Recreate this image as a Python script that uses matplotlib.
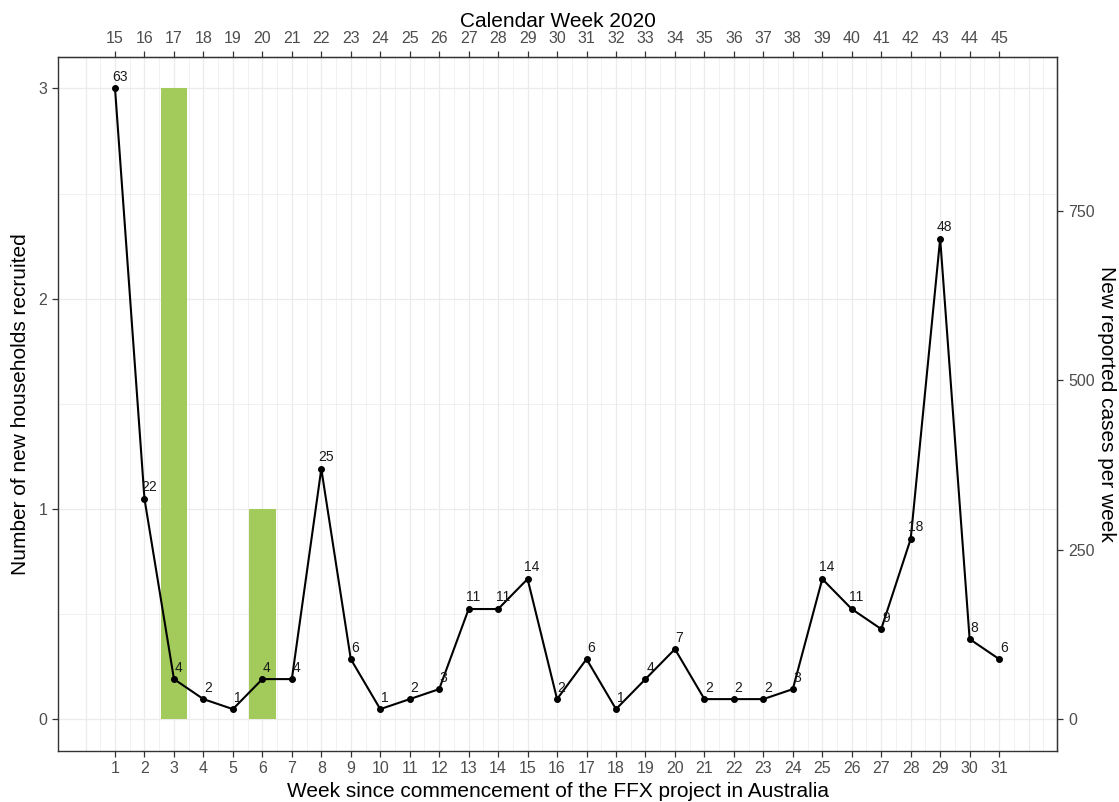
import matplotlib
matplotlib.use("Agg")
import matplotlib.pyplot as plt
import numpy as np

plt.rcParams['font.family'] = ['Liberation Sans', 'DejaVu Sans']

# data
weeks = list(range(1, 32))
cal_weeks = [w + 14 for w in weeks]
case_labels = [63, 22, 4, 2, 1, 4, 4, 25, 6, 1, 2, 3, 11, 11, 14, 2,
               6, 1, 4, 7, 2, 2, 2, 3, 14, 11, 9, 18, 48, 8, 6]
bar_weeks = [3, 6]
households = [3, 1]

scale_div = 21      # label -> left axis units
sec_factor = 310    # left axis -> reported cases

fig = plt.figure(figsize=(11.19, 8.02), dpi=100)
ax = fig.add_axes([0.0517, 0.064, 0.8933, 0.865])

grid_col = '#ebebeb'
for x in np.arange(0, 33, 0.5):
    ax.axvline(x, color=grid_col, lw=0.9 if x % 1 == 0 else 0.5, zorder=0)
for y in np.arange(0, 3.01, 0.5):
    ax.axhline(y, color=grid_col, lw=0.9 if y % 1 == 0 else 0.5, zorder=0)

ax.bar(bar_weeks, households, width=0.9, color='#a3cb5b', zorder=2)

line_y = [v / scale_div for v in case_labels]
ax.plot(weeks, line_y, color='black', lw=1.5, marker='o', ms=4, zorder=3)
for w, y, v in zip(weeks, line_y, case_labels):
    ax.annotate(str(v), (w, y), xytext=(3.3, 8.3), textcoords='offset points',
                ha='center', va='center', fontsize=10, color='#1a1a1a', zorder=4)

ax.set_xlim(-0.94, 32.98)
ax.set_ylim(-0.15, 3.15)
ax.set_xticks(weeks)
ax.set_yticks([0, 1, 2, 3])
ax.tick_params(axis='both', colors='#333333', labelcolor='#4d4d4d',
               labelsize=11.5, length=4, width=0.9)
for s in ax.spines.values():
    s.set_color('#333333')
    s.set_linewidth(1.0)

ax.set_xlabel('Week since commencement of the FFX project in Australia',
              fontsize=15, labelpad=4)
ax.set_ylabel('Number of new households recruited', fontsize=15, labelpad=6)

top = ax.secondary_xaxis('top')
top.set_xticks(weeks)
top.set_xticklabels([str(c) for c in cal_weeks])
top.tick_params(colors='#333333', labelcolor='#4d4d4d', labelsize=11.5,
                length=4, width=0.9, pad=4)
top.set_xlabel('Calendar Week 2020', fontsize=15, labelpad=3)

right = ax.secondary_yaxis('right', functions=(lambda y: y * sec_factor,
                                               lambda c: c / sec_factor))
right.set_yticks([0, 250, 500, 750])
right.tick_params(colors='#333333', labelcolor='#4d4d4d', labelsize=11.5,
                  length=4, width=0.9, pad=4)
right.set_ylabel('New reported cases per week', fontsize=15, rotation=-90,
                 labelpad=15)

fig.savefig('out.png', dpi=100)
